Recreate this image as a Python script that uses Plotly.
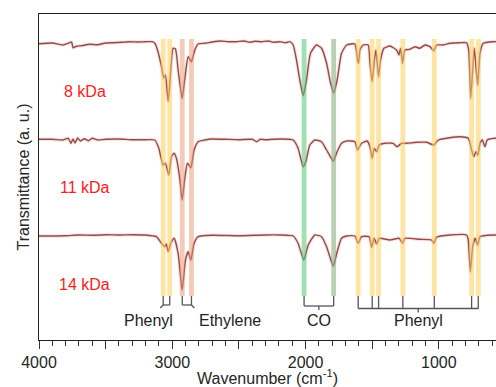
import plotly.graph_objects as go

# ---------------- data ----------------
wn_8 = [4000, 3900, 3820, 3770, 3755, 3745, 3720, 3680, 3620, 3560, 3500, 3440, 3380, 3320, 3260, 3200, 3150,
        3131, 3107, 3081, 3064, 3051, 3031, 3011, 2994, 2976, 2956, 2926, 2901, 2881, 2856, 2831, 2806, 2756,
        2700, 2640, 2580, 2520, 2460, 2420, 2380, 2330, 2280, 2240, 2193, 2150, 2118, 2093, 2068, 2043, 2018,
        1993, 1963, 1918, 1880, 1842, 1812, 1788, 1763, 1730, 1692, 1630, 1610, 1602, 1592, 1568, 1530, 1517,
        1500, 1485, 1472, 1452, 1437, 1412, 1367, 1317, 1300, 1287, 1272, 1255, 1217, 1179, 1142, 1104, 1067,
        1037, 1017, 967, 917, 842, 792, 776, 761, 746, 734, 709, 691, 667, 592, 571]
t_8 = [-0.7, 0, -2, 0.3, 1, -4.7, -3.3, -2.7, -1.3, -1.7, 0, 0.3, 0.7, 1.3, 1, 1.3, 1.3,
       -0.3, -8.7, -23.7, -35, -32, -58.7, -27, -5.3, -6, -27, -55.3, -30.3, -13.7, -18.7, -7, -1, -0.3,
       1, 2, 1.3, 1.3, 2, 0.7, 1.7, 1.3, 2, 0.7, 1.3, 0.3, 1.3, -2, -17, -37, -52.7,
       -37, -10.3, -2, -5.3, -20.3, -40.3, -49.7, -37, -10.3, -2, -1, -17, -20.3, -7, -2, -2, -20.3,
       -38.7, -18.7, -7, -33.7, -17, -5.3, -3, -7, -12, -5.3, -20.3, -7, -6.3, -3.7, -5.3, -2, -3.7,
       -7.7, -2, -2, -0.3, 0.3, 0.3, -7, -55.3, -27, -5.3, -42, -10.3, -0.3, 1.3, 1.3]

wn_11 = [4000, 3900, 3820, 3780, 3760, 3745, 3730, 3710, 3690, 3660, 3630, 3600, 3560, 3500, 3400, 3300, 3200,
         3131, 3101, 3069, 3051, 3026, 3006, 2986, 2969, 2944, 2926, 2906, 2886, 2861, 2836, 2806, 2756,
         2700, 2600, 2500, 2400, 2367, 2340, 2300, 2250, 2193, 2093, 2056, 2018, 1998, 1968, 1930, 1880,
         1842, 1792, 1763, 1730, 1692, 1630, 1610, 1580, 1538, 1517, 1500, 1485, 1467, 1447, 1406, 1343,
         1313, 1280, 1242, 1167, 1092, 1037, 1004, 917, 842, 779, 754, 737, 722, 707, 691, 674, 654, 637,
         580, 571]
t_11 = [-0.3, -0.3, -1, 0.7, -4.3, 0, -4, 1, -2, 0.3, -1.7, 0.7, -1, -0.3, 0, -0.7, -0.7,
        -1, -9.3, -26, -24.3, -36, -17.7, -14.3, -19.3, -39.3, -61, -39.3, -24.3, -28.7, -11, -2.7, -1,
        0, -0.3, -0.7, -0.3, -2.7, -0.3, -0.7, -0.3, 0, -1, -9.3, -27.7, -22.7, -6, -1, -2.7,
        -11, -22, -12.7, -4.3, -2, -2.7, -11, -4.3, -2, -7.7, -19.3, -9.3, -12.7, -6, -4.3, -4.3,
        -7.7, -4.3, -4.3, -3.3, -3.3, -6, -1, 1.3, 2.3, 0.7, -11, -17.7, -12.7, -16, -4.3, -1, -7.7, -1,
        0.7, 0.7]

wn_14 = [4000, 3800, 3700, 3600, 3500, 3400, 3300, 3206, 3119, 3081, 3056, 3044, 3031, 3011, 2986, 2956,
         2926, 2901, 2881, 2861, 2836, 2806, 2700, 2500, 2300, 2193, 2093, 2056, 2013, 1980, 1930, 1880,
         1842, 1792, 1763, 1730, 1692, 1630, 1605, 1580, 1523, 1504, 1485, 1467, 1447, 1367, 1297, 1272,
         1255, 1142, 1054, 1037, 1017, 917, 792, 779, 764, 746, 727, 709, 691, 592, 571]
t_14 = [0, 0.3, 1, 0.7, 1.3, 1, 1.3, 1, -0.7, -7.3, -10.7, -8, -15.7, -7.3, -2.3, -17.3,
        -54, -24, -15.7, -24, -7.3, -0.7, 0.7, 0.3, 1, 1, 0, -7.3, -24, -9, 1, -0.7,
        -10.7, -30, -15.7, -2.3, 0, 0, -7.3, -0.7, -0.7, -11.3, -2.3, -8, -2.3, -4, -2.3, -7.3,
        -2.3, -3.3, -4, -7.3, -1.3, 1, 1, -4, -35.7, -10.7, -2.3, -9, -0.7, 1, 1]

sample_labels = ["8 kDa", "11 kDa", "14 kDa"]
offsets = [297, 201, 104]

# band assignments (cm-1)
phenyl_ch = [3068, 3019]
ethylene = [2925, 2856]
co_bands = [2011, 1789]
phenyl_fp = [1605, 1500, 1452, 1270, 1034, 754, 704]

# ---------------- figure ----------------
FONT = "Arial, Liberation Sans, sans-serif"
LINE = "#9a4843"
fig = go.Figure()

for wn, t, off in zip([wn_8, wn_11, wn_14], [t_8, t_11, t_14], offsets):
    y = [v + off for v in t]
    fig.add_trace(go.Scatter(x=wn, y=y, mode="lines",
                             line=dict(color="rgba(190,120,120,0.2)", width=3.6, shape="spline", smoothing=0.5),
                             hoverinfo="skip", showlegend=False))
    fig.add_trace(go.Scatter(x=wn, y=y, mode="lines",
                             line=dict(color=LINE, width=1.4, shape="spline", smoothing=0.5),
                             showlegend=False))

BAND_W = 36
band_top, band_bot = 301, 44
groups = [
    (phenyl_ch, "rgba(255,205,90,0.55)"),
    (ethylene, "rgba(235,150,110,0.5)"),
    ([co_bands[0]], "rgba(80,200,120,0.55)"),
    ([co_bands[1]], "rgba(140,175,130,0.6)"),
    (phenyl_fp, "rgba(255,205,90,0.55)"),
]
for centers, col in groups:
    for c in centers:
        fig.add_shape(type="rect", xref="x", yref="y", x0=c - BAND_W / 2, x1=c + BAND_W / 2,
                      y0=band_bot, y1=band_top, fillcolor=col, line_width=0, layer="above")

BR = dict(color="#555555", width=1.3)


def bracket(centers, yh, tick=None):
    lo, hi = max(centers), min(centers)
    for c in centers:
        fig.add_shape(type="line", x0=c, x1=c, y0=band_bot, y1=yh, line=BR)
    fig.add_shape(type="line", x0=lo, x1=hi, y0=yh, y1=yh, line=BR)
    if tick == "center":
        m = (lo + hi) / 2
        fig.add_shape(type="line", x0=m, x1=m, y0=yh, y1=yh - 4, line=BR)
    elif tick == "left":
        fig.add_shape(type="line", x0=lo, x1=lo + 22, y0=yh, y1=yh - 3, line=BR)
    elif tick == "right":
        fig.add_shape(type="line", x0=hi, x1=hi - 22, y0=yh, y1=yh - 3, line=BR)


bracket(phenyl_ch, 35, "left")
bracket(ethylene, 35, "right")
bracket(co_bands, 34, "center")
bracket(phenyl_fp, 31.5, "center")

# labels
for lab, off in zip(sample_labels, offsets):
    fig.add_annotation(x=3657, y=off - 48, text=lab, showarrow=False,
                       font=dict(family=FONT, size=16, color="#ff1a1a"))

group_labels = [("Phenyl", 3177), ("Ethylene", 2565),
                ("CO", sum(co_bands) / 2), ("Phenyl", (max(phenyl_fp) + min(phenyl_fp)) / 2)]
for lab, xc in group_labels:
    fig.add_annotation(x=xc, y=20, text=lab, showarrow=False,
                       font=dict(family=FONT, size=16, color="#222222"))

fig.update_layout(
    width=496, height=387,
    margin=dict(l=39, r=0, t=14, b=47),
    plot_bgcolor="white", paper_bgcolor="white",
    font=dict(family=FONT, size=16, color="#262626"),
    showlegend=False,
    xaxis=dict(range=[4000, 571], showgrid=False, zeroline=False,
               showline=True, linecolor="#222222", linewidth=1.4, mirror=True,
               ticks="outside", ticklen=8, tickwidth=1.3, tickcolor="#333333",
               tickmode="linear", tick0=0, dtick=500, ticklabelstep=2,
               tickfont=dict(family=FONT, size=16, color="#262626"),
               minor=dict(dtick=100, ticks="outside", ticklen=5, tickwidth=1.2, tickcolor="#333333"),
               title=dict(text="Wavenumber (cm<sup>-1</sup>)", standoff=2,
                          font=dict(family=FONT, size=16, color="#262626"))),
    yaxis=dict(range=[0, 326], showgrid=False, zeroline=False, showticklabels=False,
               showline=True, linecolor="#222222", linewidth=1.4, ticks="",
               title=dict(text="Transmittance (a. u.)", standoff=4,
                          font=dict(family=FONT, size=16, color="#262626"))),
)

fig.write_html("out.html")
